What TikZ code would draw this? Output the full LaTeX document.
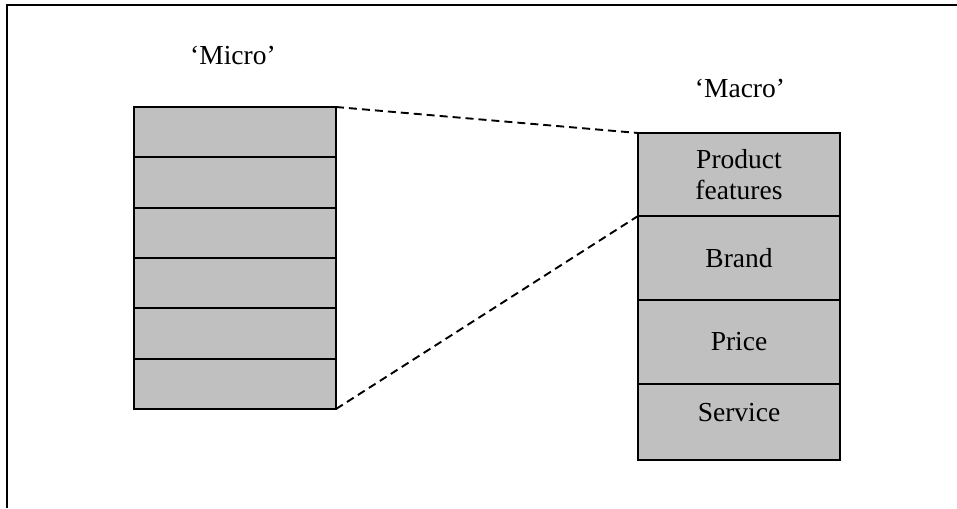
\documentclass[tikz,border=0pt]{standalone}
\usepackage{fontspec}
\setmainfont{Liberation Serif}
\definecolor{cellgray}{RGB}{192,192,192}
\begin{document}
\begin{tikzpicture}[x=1pt,y=-1pt,
  cell/.style={draw=black, fill=cellgray, line width=1.9pt, rectangle,
    outer sep=0pt, inner sep=0pt, align=center, anchor=north west,
    font=\fontsize{27.5}{31.5}\selectfont},
  heading/.style={font=\fontsize{27.5}{31.5}\selectfont, inner sep=0pt},
  link/.style={line width=1.9pt, dash pattern=on 8pt off 5pt}]
\useasboundingbox (0,0) rectangle (957,508);
% frame
\draw[line width=2.2pt] (7,508) -- (7,5) -- (957,5);

% left stack of six blank cells
\foreach \i/\y in {1/107,2/157.3,3/207.7,4/258,5/308.3,6/358.7}
  \node[cell, minimum width=202pt, minimum height=50.3pt] (m\i) at (134,\y) {};

% right stack
\node[cell, minimum width=202pt, minimum height=83pt] (r1) at (638,133) {Product\\features};
\node[cell, minimum width=202pt, minimum height=84pt] (r2) at (638,216) {Brand};
\node[cell, minimum width=202pt, minimum height=84pt] (r3) at (638,300) {Price};
\node[cell, minimum width=202pt, minimum height=76pt, text depth=20pt] (r4) at (638,384) {Service};

% headings
\node[heading] (micro) at (233,55) {‘Micro’};
\node[heading] (macro) at (740,88) {‘Macro’};

% dashed zoom lines
\draw[link] (m1.north east) -- (r1.north west);
\draw[link] (m6.south east) -- (r1.south west);
\end{tikzpicture}
\end{document}
